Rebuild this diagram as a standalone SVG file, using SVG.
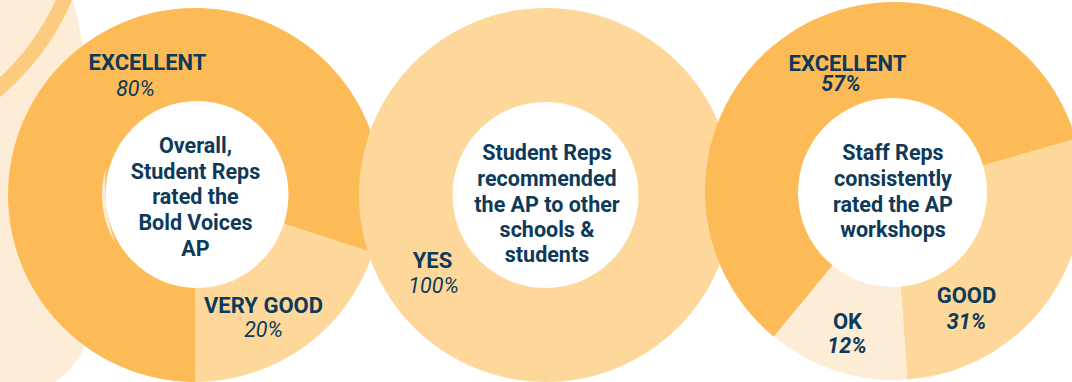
<svg xmlns="http://www.w3.org/2000/svg" width="1072" height="382" viewBox="0 0 1072 382">
  <style>
    .orange { fill: #FDBB57; }
    .light { fill: #FED89B; }
    .pale { fill: #FEEDD6; }
    .hole { fill: #FFFFFF; }
    text { font-family: Roboto, "Liberation Sans", sans-serif; fill: #0E3A5A; text-anchor: middle; }
    .lbl { font-size: 22px; font-weight: 700; }
    .center { font-size: 21.5px; font-weight: 700; }
    .pct { font-size: 21.5px; font-style: italic; font-weight: 400; }
    .pctb { font-size: 21.5px; font-style: italic; font-weight: 700; }
  </style>
  <rect x="0" y="0" width="1072" height="382" fill="#FFFFFF"/>

  <g id="background-decoration">
    <path class="pale" d="M0,0 H73 C77,14 80,28 82,43 C86,80 100,120 100,195 C100,270 90,320 83,349 C78,362 67,374 55,382 H0 Z"/>
    <circle cx="-167" cy="-102" r="252.5" fill="none" stroke="#FDCB80" stroke-width="15"/>
  </g>

  <g id="chart-student-rating">
    <path class="orange" d="M195,195 L195,382 A187,187 0 1 1 372.85,252.79 Z"/>
    <path class="light" d="M195,195 L372.85,252.79 A187,187 0 0 1 195,382 Z"/>
    <path class="pale" d="M106.3,167 A93,93 0 0 0 115.3,243 A160,160 0 0 1 106.3,167 Z"/>
    <ellipse class="hole" cx="197" cy="194.5" rx="91.5" ry="93.5"/>
    <text class="lbl" x="147.5" y="70">EXCELLENT</text>
    <text class="pct" x="135.5" y="96">80%</text>
    <text class="lbl" x="263.5" y="313">VERY GOOD</text>
    <text class="pct" x="263.5" y="337">20%</text>
    <text class="center" x="195.5" y="153">Overall,</text>
    <text class="center" x="195.5" y="179">Student Reps</text>
    <text class="center" x="195.5" y="204">rated the</text>
    <text class="center" x="195.5" y="230">Bold Voices</text>
    <text class="center" x="195.5" y="256">AP</text>
  </g>

  <g id="chart-recommend">
    <circle class="light" cx="546" cy="195" r="187"/>
    <circle class="hole" cx="545.5" cy="195" r="93"/>
    <text class="lbl" x="432.5" y="268">YES</text>
    <text class="pct" x="433.5" y="293">100%</text>
    <text class="center" x="547" y="160">Student Reps</text>
    <text class="center" x="547" y="186">recommended</text>
    <text class="center" x="547" y="212">the AP to other</text>
    <text class="center" x="547" y="237">schools &amp;</text>
    <text class="center" x="547" y="262">students</text>
  </g>

  <g id="connectors">
    <line x1="546" y1="288" x2="546" y2="382" stroke="#F4D2A2" stroke-width="0.8"/>
  </g>

  <g id="chart-staff-rating">
    <path class="orange" d="M894,191 L773.8,336.8 A189,189 0 1 1 1075.7,138.9 Z"/>
    <path class="light" d="M894,191 L1075.7,138.9 A189,189 0 0 1 907.2,379.5 Z"/>
    <path class="pale" d="M894,191 L907.2,379.5 A189,189 0 0 1 773.8,336.8 Z"/>
    <circle class="hole" cx="892.5" cy="192.5" r="94.5"/>
    <text class="lbl" x="847.5" y="71">EXCELLENT</text>
    <text class="pctb" x="841" y="91">57%</text>
    <text class="lbl" x="966.5" y="303">GOOD</text>
    <text class="pctb" x="966.5" y="329">31%</text>
    <text class="lbl" x="847.5" y="329">OK</text>
    <text class="pctb" x="847" y="353">12%</text>
    <text class="center" x="893" y="160">Staff Reps</text>
    <text class="center" x="893" y="186">consistently</text>
    <text class="center" x="893" y="212">rated the AP</text>
    <text class="center" x="893" y="237">workshops</text>
  </g>
</svg>
